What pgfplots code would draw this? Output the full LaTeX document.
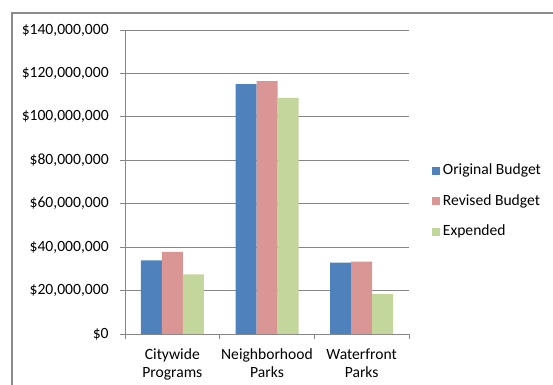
\documentclass[border=0pt]{standalone}
\usepackage{pgfplots}
\pgfplotsset{compat=1.18}
\usepackage{fontspec}
\setmainfont{Carlito}

\definecolor{origblue}{HTML}{4F81BD}
\definecolor{revpink}{HTML}{D99694}
\definecolor{expgreen}{HTML}{C3D69B}
\definecolor{axgray}{HTML}{868686}
\definecolor{framegray}{HTML}{8C8C8C}

% square legend swatches
\pgfplotsset{sqleg/.style={legend image code/.code={\fill[##1] (0pt,-3pt) rectangle (6pt,3pt);}}}

\begin{document}
\begin{tikzpicture}
\useasboundingbox (0pt,0pt) rectangle (414.75pt,-288.75pt);
\begin{scope}
  \clip (0pt,0pt) rectangle (414.75pt,-288.75pt);
  \draw[framegray, line width=1.1pt] (9pt,-9.75pt) rectangle (430pt,-300pt);
\end{scope}
\begin{axis}[
  at={(93.75pt,-250.5pt)}, anchor=south west,
  scale only axis, width=213pt, height=228pt,
  xmin=-0.5, xmax=2.5, ymin=0, ymax=140000000,
  ybar=0pt, bar width=15.75pt,
  axis x line*=bottom, axis y line*=left,
  axis line style={axgray, line width=0.75pt, -},
  ytick={0,20000000,40000000,60000000,80000000,100000000,120000000,140000000},
  yticklabels={{\$0},{\$20,000,000},{\$40,000,000},{\$60,000,000},{\$80,000,000},{\$100,000,000},{\$120,000,000},{\$140,000,000}},
  scaled y ticks=false,
  ymajorgrids, grid style={axgray, line width=0.75pt},
  tick style={axgray, line width=0.75pt}, tick align=outside, major tick length=3.75pt,
  xtick={0,1,2},
  xticklabels={{Citywide\\Programs},{Neighborhood\\Parks},{Waterfront\\Parks}},
  xtick style={draw=none},
  extra x ticks={-0.5,0.5,1.5,2.5}, extra x tick labels={},
  extra x tick style={xtick style={draw=axgray, line width=0.75pt}, xmajorgrids=false},
  xticklabel style={align=center, font=\fontsize{11.7}{13.5}\selectfont, yshift=-4pt},
  yticklabel style={font=\fontsize{11.7}{13.5}\selectfont, xshift=-5pt},
  enlargelimits=false, clip=false,
  legend style={at={(1,0.436)}, anchor=west, xshift=17pt, draw=none, fill=none,
    inner sep=0pt, row sep=8pt, font=\fontsize{11.7}{13.5}\selectfont,
    nodes={inner sep=2.25pt, text height=8pt, text depth=2.5pt}},
  legend cell align=left,
]
\addplot[fill=origblue, draw=none, sqleg] coordinates {(0,33900000) (1,115100000) (2,32900000)};
\addplot[fill=revpink, draw=none, sqleg] coordinates {(0,37800000) (1,116400000) (2,33300000)};
\addplot[fill=expgreen, draw=none, sqleg] coordinates {(0,27500000) (1,108700000) (2,18400000)};
\legend{Original Budget, Revised Budget, Expended}
\end{axis}
\end{tikzpicture}
\end{document}
